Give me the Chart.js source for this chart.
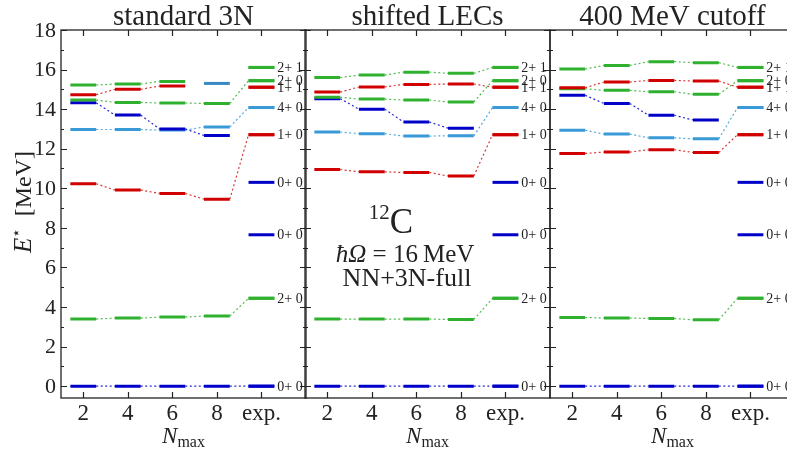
<!DOCTYPE html>
<html><head><meta charset="utf-8">
<script src="https://cdn.jsdelivr.net/npm/chart.js@4/dist/chart.umd.min.js"></script>
<style>
html,body{margin:0;padding:0;background:#fff;overflow:hidden}
#wrap{position:relative;width:787px;height:450px;overflow:hidden;background:#fff}
#wrap canvas{position:absolute;left:0;top:0}
</style></head><body>
<div id="wrap">
<canvas id="c0" width="800" height="450"></canvas>
<canvas id="c1" width="800" height="450"></canvas>
<canvas id="c2" width="800" height="450"></canvas>
</div>
<script>
// ---- data ----
const nmaxLabels = ['2', '4', '6', '8', 'exp.'];
const yTicks = [0, 2, 4, 6, 8, 10, 12, 14, 16, 18];
const panelTitles = ['standard 3N', 'shifted LECs', '400 MeV cutoff'];

// experimental levels (J^pi T)
const expEnergy = [16.11, 15.44, 15.11, 14.08, 12.71, 10.30, 7.65, 4.44, 0.00];
const expLabel  = ['2+ 1', '2+ 0', '1+ 1', '4+ 0', '1+ 0', '0+ 0', '0+ 0', '2+ 0', '0+ 0'];

// computed levels: values at Nmax = 2,4,6,8 and linked exp level (null = no link)
// standard 3N
const std_2p1   = [15.22, 15.27, 15.40, null, 16.11];
const std_1p1   = [14.73, 15.00, 15.17, null, 15.11];
const std_2p0b  = [14.46, 14.34, 14.31, 14.29, 15.44];
const std_0p0c  = [14.32, 13.70, 13.00, 12.67, null];
const std_4p0   = [12.97, 12.97, 12.94, 13.10, 14.08];
const std_1p0   = [10.23, 9.91, 9.74, 9.45, 12.71];
const std_2p0a  = [3.39, 3.44, 3.49, 3.54, 4.44];
const std_0p0gs = [0, 0, 0, 0, 0];
const std_extra = [null, null, null, 15.30, null];
// shifted LECs
const sh_2p1   = [15.60, 15.72, 15.87, 15.81, 16.11];
const sh_1p1   = [14.86, 15.12, 15.25, 15.27, 15.11];
const sh_2p0b  = [14.60, 14.51, 14.46, 14.36, 15.44];
const sh_0p0c  = [14.53, 14.00, 13.35, 13.04, null];
const sh_4p0   = [12.84, 12.76, 12.64, 12.65, 14.08];
const sh_1p0   = [10.95, 10.83, 10.80, 10.62, 12.71];
const sh_2p0a  = [3.39, 3.39, 3.39, 3.37, 4.44];
const sh_0p0gs = [0, 0, 0, 0, 0];
// 400 MeV cutoff
const cut_2p1   = [16.03, 16.21, 16.40, 16.35, 16.11];
const cut_1p1   = [15.08, 15.37, 15.45, 15.42, 15.11];
const cut_2p0b  = [15.03, 14.95, 14.88, 14.75, 15.44];
const cut_0p0c  = [14.70, 14.29, 13.69, 13.45, null];
const cut_4p0   = [12.93, 12.74, 12.55, 12.50, 14.08];
const cut_1p0   = [11.76, 11.83, 11.95, 11.81, 12.71];
const cut_2p0a  = [3.47, 3.44, 3.42, 3.35, 4.44];
const cut_0p0gs = [0, 0, 0, 0, 0];

// ---- styling / layout ----
const colJ = {0: '#0000c8', 1: '#d00000', 2: '#2fb12f', 4: '#3a9ad8', x: '#3a88c2'};
const linkJ = {0: 'rgba(0,0,200,0.85)', 1: 'rgba(208,0,0,0.8)', 2: 'rgba(47,177,47,0.85)', 4: 'rgba(58,154,216,0.85)', x: 'rgba(58,136,194,0.8)'};
const panels = [
  {left: 61, series: [[std_2p1,2],[std_1p1,1],[std_2p0b,2],[std_0p0c,0],[std_4p0,4],[std_1p0,1],[std_2p0a,2],[std_0p0gs,0],[std_extra,'x']]},
  {left: 305, series: [[sh_2p1,2],[sh_1p1,1],[sh_2p0b,2],[sh_0p0c,0],[sh_4p0,4],[sh_1p0,1],[sh_2p0a,2],[sh_0p0gs,0]]},
  {left: 550, series: [[cut_2p1,2],[cut_1p1,1],[cut_2p0b,2],[cut_0p0c,0],[cut_4p0,4],[cut_1p0,1],[cut_2p0a,2],[cut_0p0gs,0]]}
];
const PW = 245, TOP = 30, BOTTOM = 398, CW = 800;
const hw = 0.29;
const SERIF = '"Liberation Serif", "DejaVu Serif", serif';
const INK = '#222222';

function jOf(label) { return parseInt(label.charAt(0), 10); }

function barData(vals) {
  const d = [];
  vals.forEach((v, i) => { if (v == null) return; d.push({x: i - hw, y: v}, {x: i + hw, y: v}, {x: i + hw, y: null}); });
  return d;
}
function linkData(vals) {
  const d = [];
  for (let i = 0; i < vals.length - 1; i++) {
    if (vals[i] != null && vals[i + 1] != null) {
      d.push({x: i + hw, y: vals[i]}, {x: i + 1 - hw, y: vals[i + 1]}, {x: i + 1 - hw, y: null});
    }
  }
  return d;
}

function drawYTitle(ctx) {
  ctx.save();
  ctx.translate(31, 202);
  ctx.rotate(-Math.PI / 2);
  ctx.fillStyle = INK;
  ctx.textAlign = 'left';
  ctx.textBaseline = 'alphabetic';
  const pE = 'italic 25px ' + SERIF, pS = '15px "DejaVu Sans", sans-serif', pM = '24px ' + SERIF;
  ctx.font = pE; const wE = ctx.measureText('E').width;
  ctx.font = pS; const wS = ctx.measureText('\u22c6').width;
  ctx.font = pM; const wM = ctx.measureText('  [MeV]').width;
  let x = -(wE + wS + wM) / 2;
  ctx.font = pE; ctx.fillText('E', x, 0); x += wE;
  ctx.font = pS; ctx.fillText('\u22c6', x, -10); x += wS;
  ctx.font = pM; ctx.fillText('  [MeV]', x, 0);
  ctx.restore();
}

function drawCenterNote(ctx) {
  ctx.save();
  ctx.fillStyle = INK;
  ctx.textAlign = 'left';
  ctx.textBaseline = 'alphabetic';
  // 12C
  ctx.font = '21px ' + SERIF; const w12 = ctx.measureText('12').width;
  ctx.font = '35px ' + SERIF; const wC = ctx.measureText('C').width;
  let x = 391 - (w12 + wC) / 2;
  ctx.font = '21px ' + SERIF; ctx.fillText('12', x, 219);
  ctx.font = '35px ' + SERIF; ctx.fillText('C', x + w12, 233);
  // hbar Omega
  const a = '\u0127\u03a9', b = ' = 16\u2009MeV';
  ctx.font = 'italic 25px ' + SERIF; const wa = ctx.measureText(a).width;
  ctx.font = '25px ' + SERIF; const wb = ctx.measureText(b).width;
  x = 405 - (wa + wb) / 2;
  ctx.font = 'italic 25px ' + SERIF; ctx.fillText(a, x, 262);
  ctx.font = '25px ' + SERIF; ctx.fillText(b, x + wa, 262);
  ctx.textAlign = 'center';
  ctx.font = '26px ' + SERIF;
  ctx.fillText('NN+3N-full', 407, 286);
  ctx.restore();
}

function framePlugin(pi) {
  return {
    id: 'frame' + pi,
    afterDraw(chart) {
      const ctx = chart.ctx, a = chart.chartArea, xs = chart.scales.x, ys = chart.scales.y;
      ctx.save();
      // frame
      ctx.strokeStyle = INK; ctx.lineWidth = 1.3;
      ctx.strokeRect(a.left, a.top, a.right - a.left, a.bottom - a.top);
      ctx.lineWidth = 1.2;
      ctx.beginPath();
      for (let v = 0; v <= 18; v++) {
        const py = Math.round(ys.getPixelForValue(v)) + 0.5;
        const len = v % 2 === 0 ? 6 : 3;
        ctx.moveTo(a.left, py); ctx.lineTo(a.left + len, py);
        ctx.moveTo(a.right, py); ctx.lineTo(a.right - len, py);
      }
      nmaxLabels.forEach((l, i) => {
        const px = Math.round(xs.getPixelForValue(i)) + 0.5;
        ctx.moveTo(px, a.top); ctx.lineTo(px, a.top + 6);
        ctx.moveTo(px, a.bottom); ctx.lineTo(px, a.bottom - 6);
      });
      ctx.stroke();
      // x tick labels
      ctx.fillStyle = INK;
      ctx.font = '23px ' + SERIF; ctx.textAlign = 'center'; ctx.textBaseline = 'alphabetic';
      nmaxLabels.forEach((l, i) => ctx.fillText(l, xs.getPixelForValue(i), 420));
      // y tick labels (first panel)
      if (pi === 0) {
        ctx.font = '22px ' + SERIF; ctx.textAlign = 'right'; ctx.textBaseline = 'middle';
        yTicks.forEach(v => ctx.fillText(String(v), 56, ys.getPixelForValue(v) + 1));
        drawYTitle(ctx);
      }
      // title
      ctx.font = '29px ' + SERIF; ctx.textAlign = 'center'; ctx.textBaseline = 'alphabetic';
      ctx.fillText(panelTitles[pi], (a.left + a.right) / 2, 25);
      // x title N_max
      const cx = (a.left + a.right) / 2;
      ctx.font = 'italic 23px ' + SERIF; const wN = ctx.measureText('N').width;
      ctx.font = '16px ' + SERIF; const wm = ctx.measureText('max').width;
      let x0 = cx - (wN + wm) / 2;
      ctx.textAlign = 'left';
      ctx.font = 'italic 23px ' + SERIF; ctx.fillText('N', x0, 443);
      ctx.font = '16px ' + SERIF; ctx.fillText('max', x0 + wN, 447);
      // exp labels
      ctx.font = '14px ' + SERIF; ctx.textBaseline = 'middle';
      expEnergy.forEach((e, k) => ctx.fillText(expLabel[k], xs.getPixelForValue(4 + hw) + 3, ys.getPixelForValue(e) + 1));
      if (pi === 1) drawCenterNote(ctx);
      ctx.restore();
    }
  };
}

panels.forEach((p, pi) => {
  const datasets = [];
  p.series.forEach(([vals, J]) => {
    datasets.push({data: barData(vals), borderColor: colJ[J], borderWidth: 3, borderCapStyle: 'butt', order: 0});
    datasets.push({data: linkData(vals), borderColor: linkJ[J], borderWidth: 1.2, borderDash: [2, 2.5], order: 1});
  });
  expEnergy.forEach((e, k) => {
    datasets.push({data: barData([null, null, null, null, e]), borderColor: colJ[jOf(expLabel[k])], borderWidth: 3, borderCapStyle: 'butt', order: 0});
  });
  datasets.forEach(d => { d.pointRadius = 0; d.pointHoverRadius = 0; d.fill = false; d.tension = 0; d.spanGaps = false; });
  new Chart(document.getElementById('c' + pi), {
    type: 'line',
    data: {datasets},
    options: {
      responsive: false, animation: false, events: [],
      layout: {padding: {left: p.left, right: CW - p.left - PW, top: TOP, bottom: 450 - BOTTOM}},
      plugins: {legend: {display: false}, tooltip: {enabled: false}, title: {display: false}},
      scales: {
        x: {type: 'linear', min: -0.5, max: 5.0, display: false},
        y: {type: 'linear', min: -0.6, max: 18, display: false}
      }
    },
    plugins: [framePlugin(pi)]
  });
});
</script>
</body></html>
